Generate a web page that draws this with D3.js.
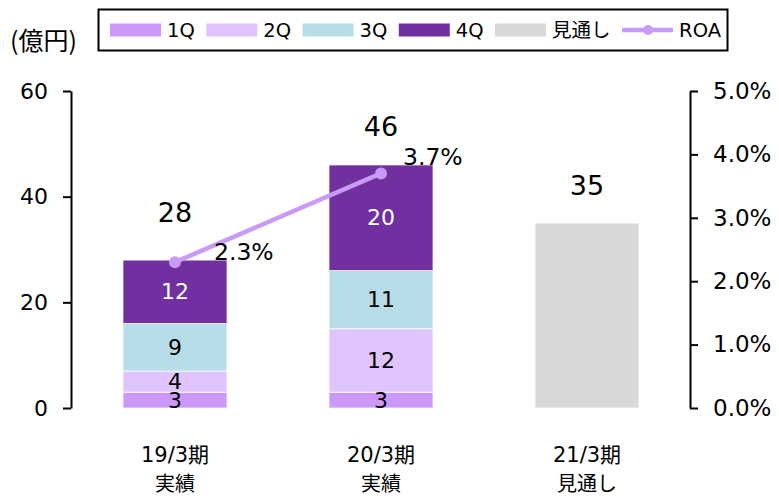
<!DOCTYPE html>
<html>
<head>
<meta charset="utf-8">
<script src="https://cdn.jsdelivr.net/npm/d3@7"></script>
<style>
  body { margin: 0; background: #fff; }
  svg text { font-family: "DejaVu Sans", "Noto Sans CJK JP", sans-serif; fill: #000; }
</style>
</head>
<body>
<div id="chart"></div>
<script>
// data
const periods = ["19/3期", "20/3期", "21/3期"];
const periodNotes = ["実績", "実績", "見通し"];
const seriesNames = ["1Q", "2Q", "3Q", "4Q", "見通し"];
const q1 = [3, 3, 0];
const q2 = [4, 12, 0];
const q3 = [9, 11, 0];
const q4 = [12, 20, 0];
const outlook = [0, 0, 35];
const totals = [28, 46, 35];
const roa = [2.3, 3.7];
const leftTicks = [0, 20, 40, 60];
const rightTicks = [0, 1, 2, 3, 4, 5];

const colors = {
    "1Q": "#cc99fa",
    "2Q": "#e0c4fd",
    "3Q": "#b7dee8",
    "4Q": "#7030a0",
    "見通し": "#d9d9d9"
};
const roaColor = "#c99bf8";

const width = 779, height = 504;
const svg = d3.select("#chart").append("svg")
    .attr("width", width)
    .attr("height", height);

// scales
let x = d3.scaleBand()
    .domain(periods)
    .range([72, 690])
    .paddingInner(0.495)
    .paddingOuter(0.2475);

let y = d3.scaleLinear().domain([0, 60]).range([408, 91]);
let y2 = d3.scaleLinear().domain([0, 5]).range([408, 91]);

// stack table
let rows = periods.map((p, i) => ({
    period: p,
    "1Q": q1[i], "2Q": q2[i], "3Q": q3[i], "4Q": q4[i], "見通し": outlook[i]
}));
let stack = d3.stack().keys(seriesNames)(rows);

// bars
let layers = svg.append("g").selectAll("g")
    .data(stack)
    .enter().append("g")
    .attr("fill", d => colors[d.key]);

layers.selectAll("rect")
    .data(d => d.filter(s => s[1] > s[0]))
    .enter().append("rect")
    .attr("x", d => x(d.data.period))
    .attr("width", x.bandwidth())
    .attr("y", d => y(d[1]))
    .attr("height", d => y(d[0]) - y(d[1]))
    .attr("stroke", "#fff")
    .attr("stroke-width", 0.75);

// segment labels (quarters only)
stack.filter(l => l.key !== "見通し").forEach(layer => {
    svg.append("g").selectAll("text")
        .data(layer.filter(s => s[1] > s[0]))
        .enter().append("text")
        .attr("x", d => x(d.data.period) + x.bandwidth() / 2)
        .attr("y", d => (y(d[0]) + y(d[1])) / 2)
        .attr("text-anchor", "middle")
        .attr("dominant-baseline", "central")
        .style("font-size", "22px")
        .style("fill", layer.key === "4Q" ? "#fff" : "#000")
        .text(d => d[1] - d[0]);
});

// totals
svg.append("g").selectAll("text")
    .data(totals)
    .enter().append("text")
    .attr("x", (d, i) => x(periods[i]) + x.bandwidth() / 2)
    .attr("y", (d, i) => y(d) - (i === 0 ? 48 : 38))
    .attr("text-anchor", "middle")
    .attr("dominant-baseline", "central")
    .style("font-size", "27px")
    .text(d => d);

// left axis
let leftAxis = svg.append("g")
    .attr("transform", "translate(71,0)")
    .call(d3.axisLeft(y).tickValues(leftTicks).tickSize(8).tickSizeOuter(0).tickPadding(15));

// right axis
let rightAxis = svg.append("g")
    .attr("transform", "translate(690,0)")
    .call(d3.axisRight(y2).tickValues(rightTicks).tickSize(8).tickSizeOuter(0).tickPadding(15)
        .tickFormat(d => d.toFixed(1) + "%"));

[leftAxis, rightAxis].forEach(a => {
    a.select(".domain").attr("stroke", "#000").attr("stroke-width", 2);
    a.selectAll(".tick line").attr("stroke", "#000").attr("stroke-width", 2);
    a.selectAll(".tick text").attr("fill", "#000")
        .style("font-family", "'DejaVu Sans', sans-serif");
});
leftAxis.selectAll(".tick text").style("font-size", "22px");
rightAxis.selectAll(".tick text").style("font-size", "23px");

// ROA line
let line = d3.line()
    .x((d, i) => x(periods[i]) + x.bandwidth() / 2)
    .y(d => y2(d));

svg.append("path")
    .datum(roa)
    .attr("d", line)
    .attr("fill", "none")
    .attr("stroke", roaColor)
    .attr("stroke-width", 4.5);

svg.append("g").selectAll("circle")
    .data(roa)
    .enter().append("circle")
    .attr("cx", (d, i) => x(periods[i]) + x.bandwidth() / 2)
    .attr("cy", d => y2(d))
    .attr("r", 6)
    .attr("fill", roaColor);

svg.append("g").selectAll("text")
    .data(roa)
    .enter().append("text")
    .attr("x", (d, i) => x(periods[i]) + x.bandwidth() / 2 + (i === 0 ? 39 : 22))
    .attr("y", d => y2(d) - (d < 3 ? 10 : 16))
    .attr("dominant-baseline", "central")
    .style("font-size", "23.5px")
    .text(d => d.toFixed(1) + "%");

// category labels
let cats = svg.append("g");
cats.selectAll(".cat")
    .data(periods)
    .enter().append("text")
    .attr("x", d => x(d) + x.bandwidth() / 2)
    .attr("y", 455)
    .attr("text-anchor", "middle")
    .attr("dominant-baseline", "central")
    .style("font-size", "21px")
    .text(d => d);
cats.selectAll(".note")
    .data(periodNotes)
    .enter().append("text")
    .attr("x", (d, i) => x(periods[i]) + x.bandwidth() / 2)
    .attr("y", 484)
    .attr("text-anchor", "middle")
    .attr("dominant-baseline", "central")
    .style("font-size", "20px")
    .text(d => d);

// unit
svg.append("text")
    .attr("x", 10)
    .attr("y", 39)
    .attr("dominant-baseline", "central")
    .style("font-size", "25px")
    .style("font-family", "'Noto Sans CJK JP', sans-serif")
    .text("(億円)");

// legend
let legend = svg.append("g");
legend.append("rect")
    .attr("x", 98.5).attr("y", 9.5)
    .attr("width", 629).attr("height", 41)
    .attr("fill", "#fff").attr("stroke", "#000").attr("stroke-width", 2);

let legendItems = seriesNames.concat(["ROA"]);
let cursor = 110;
legendItems.forEach(name => {
    let g = legend.append("g").attr("transform", `translate(${cursor},30)`);
    if (name === "ROA") {
        g.append("line")
            .attr("x1", 0).attr("x2", 51).attr("y1", 0).attr("y2", 0)
            .attr("stroke", roaColor).attr("stroke-width", 4.5);
        g.append("circle")
            .attr("cx", 26).attr("cy", 0).attr("r", 5)
            .attr("fill", roaColor);
    } else {
        g.append("rect")
            .attr("x", 0).attr("y", -6.5)
            .attr("width", 51).attr("height", 13)
            .attr("fill", colors[name]);
    }
    let t = g.append("text")
        .attr("x", 57)
        .attr("y", 0)
        .attr("dominant-baseline", "central")
        .style("font-size", "19.5px")
        .text(name);
    cursor += 57 + t.node().getComputedTextLength() + 11.5;
});
</script>
</body>
</html>
